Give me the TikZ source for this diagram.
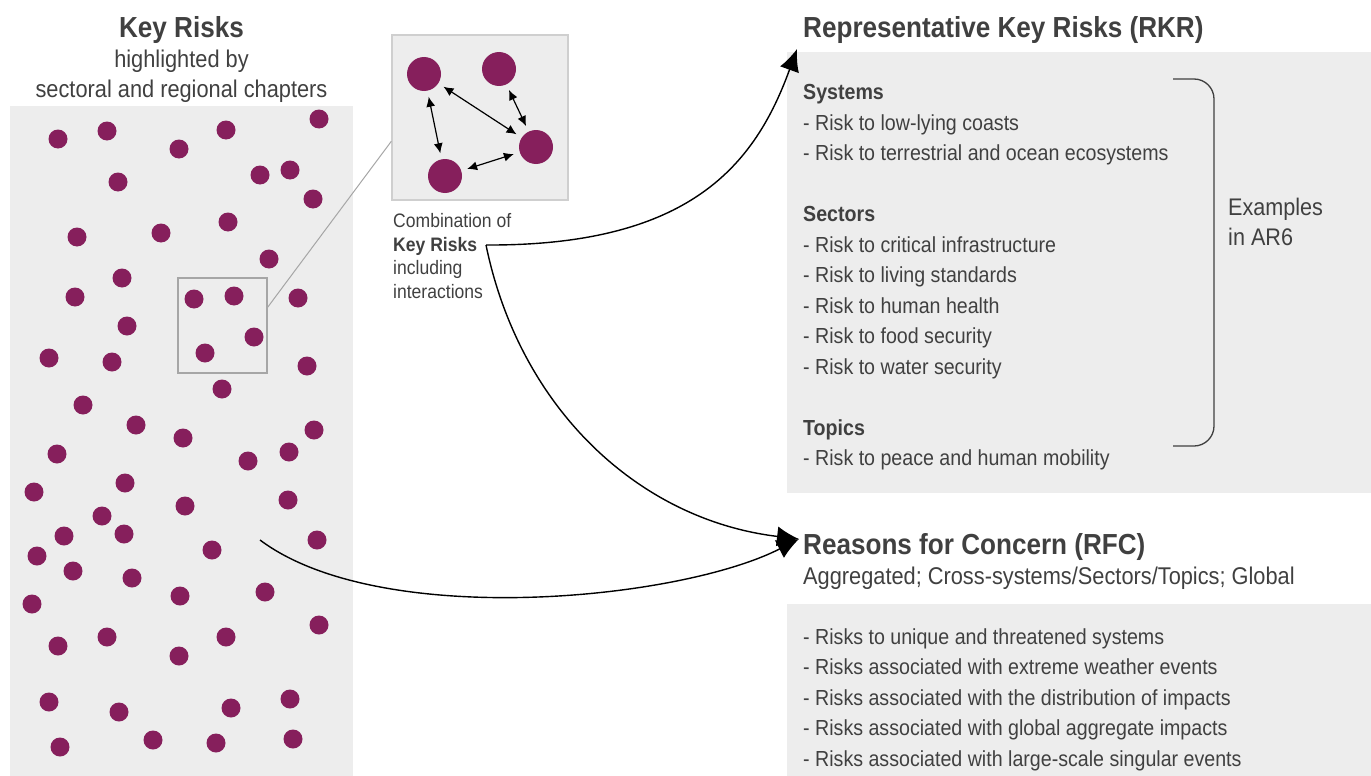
\documentclass[tikz,border=0pt]{standalone}
\usepackage{fontspec}
\setmainfont{Liberation Sans}[FakeStretch=0.9]
\usepackage{xcolor}
\usepackage{tikz}
\usetikzlibrary{arrows.meta}

\definecolor{riskpurple}{HTML}{861F5C}
\definecolor{panelgray}{HTML}{EDEDED}
\definecolor{textgray}{HTML}{404040}
\definecolor{boxgray}{HTML}{A6A6A6}
\definecolor{zoomgray}{HTML}{CFCFCF}

\newcommand{\fsz}[2]{\fontsize{#1}{#2}\selectfont}

\begin{document}
\begin{tikzpicture}[
    x=1pt, y=-1pt,
    >=Latex,
    dot/.style={circle, fill=riskpurple, minimum size=19pt, inner sep=0pt},
    bigdot/.style={circle, fill=riskpurple, minimum size=34pt, inner sep=0pt},
    txt/.style={anchor=base west, inner sep=0pt, text=textgray},
    item/.style={txt, font=\fsz{21.8}{26}},
    head/.style={txt, font=\bfseries\fsz{29}{34}},
    link/.style={-{Latex[length=22pt,width=20pt]}, line width=1.4pt},
    mutual/.style={{Latex[length=10pt,width=9pt]}-{Latex[length=10pt,width=9pt]}, line width=1.2pt, shorten <=6pt, shorten >=6pt}
]
\useasboundingbox (0,0) rectangle (1371,776);

% === Key Risks panel ===
\fill[panelgray] (10,106) rectangle (353,776);
\node[txt, anchor=base, font=\bfseries\fsz{29}{34}] (krtitle) at (181.5,38) {Key Risks};
\node[txt, anchor=base, font=\fsz{24.2}{29}] (krsub1) at (181.5,68) {highlighted by};
\node[txt, anchor=base, font=\fsz{24.2}{29}] (krsub2) at (181.5,97) {sectoral and regional chapters};

% Scattered key risks
\foreach \x/\y [count=\i] in {58/139, 107/131, 179/149, 226/130, 319/119, 118/182, 260/175, 290/170,
    313/199, 77/237, 161/233, 228/222, 269/259, 122/278, 75/297, 194/299, 234/296, 298/298,
    127/326, 254/337, 205/353, 49/358, 112/362, 307/366, 222/389, 83/405, 136/425, 183/438,
    314/430, 57/454, 248/461, 289/452, 34/492, 125/483, 185/506, 288/500, 102/516, 64/536,
    124/534, 37/556, 212/550, 317/540, 73/571, 132/578, 32/604, 180/596, 265/592, 319/625,
    58/646, 107/637, 226/637, 179/656, 49/702, 119/712, 231/708, 290/699, 60/747, 153/740,
    216/743, 293/739} {
    \node[dot] (risk\i) at (\x,\y) {};
}

% Selection and zoom
\node[draw=boxgray, line width=1.3pt, minimum width=89pt, minimum height=95pt, inner sep=0pt] (selbox) at (222.5,325.5) {};
\node[draw=zoomgray, fill=panelgray, line width=1.3pt, minimum width=176pt, minimum height=165pt, inner sep=0pt] (zoombox) at (480,117.5) {};
\draw[boxgray, line width=1pt] (selbox.22.6) -- (zoombox.195.5);

\node[bigdot] (rk1) at (424,74) {};
\node[bigdot] (rk2) at (499,69) {};
\node[bigdot] (rk3) at (536,147) {};
\node[bigdot] (rk4) at (445,176) {};
\draw[mutual] (rk1) -- (rk4);
\draw[mutual] (rk1) -- (rk3);
\draw[mutual] (rk2) -- (rk3);
\draw[mutual] (rk4) -- (rk3);

\node[txt, font=\fsz{19.5}{23.5}] (comb1) at (393,227.5) {Combination of};
\node[txt, font=\bfseries\fsz{19.5}{23.5}] (comb2) at (393,251) {Key Risks};
\node[txt, font=\fsz{19.5}{23.5}] (comb3) at (393,274.5) {including};
\node[txt, font=\fsz{19.5}{23.5}] (comb4) at (393,298) {interactions};

% === Representative Key Risks ===
\node[head] (rkr) at (803,38) {Representative Key Risks (RKR)};
\fill[panelgray] (787,52) rectangle (1371,493);
\foreach \i/\txt in {0/{\bfseries Systems}, 1/- Risk to low-lying coasts, 2/- Risk to terrestrial and ocean ecosystems,
    4/{\bfseries Sectors}, 5/- Risk to critical infrastructure, 6/- Risk to living standards, 7/- Risk to human health,
    8/- Risk to food security, 9/- Risk to water security, 11/{\bfseries Topics}, 12/- Risk to peace and human mobility} {
    \node[item] (rkr\i) at (803,99.5+30.5*\i) {\txt};
}

% Bracket
\draw[textgray, line width=1.3pt, rounded corners=20pt] (1173,79) -- (1214,79) -- (1214,446) -- (1173,446);
\node[txt, font=\fsz{24}{30}] (ex1) at (1228,215) {Examples};
\node[txt, font=\fsz{24}{30}] (ex2) at (1228,245) {in AR6};

% === Reasons for Concern ===
\node[head] (rfc) at (803,554) {Reasons for Concern (RFC)};
\node[txt, font=\fsz{24.2}{29}] (rfcsub) at (803,584) {Aggregated; Cross-systems/Sectors/Topics; Global};
\fill[panelgray] (787,604) rectangle (1371,776);
\foreach \txt [count=\i from 0] in {- Risks to unique and threatened systems, - Risks associated with extreme weather events,
    - Risks associated with the distribution of impacts, - Risks associated with global aggregate impacts,
    - Risks associated with large-scale singular events} {
    \node[item] (rfc\i) at (803,644+30.5*\i) {\txt};
}

% === Arrows ===
\coordinate (krout) at (486,245);
\coordinate (dotsout) at (260,540);
\coordinate (rkrtip) at (797,49);
\coordinate (rfctip) at (799,539);
\draw[link] (krout) .. controls (690,246) and (755,165) .. (rkrtip);
\draw[link] (krout) .. controls (520,410) and (640,520) .. (rfctip);
\draw[link] (dotsout) .. controls (380,630) and (680,600) .. (rfctip);
\end{tikzpicture}
\end{document}
